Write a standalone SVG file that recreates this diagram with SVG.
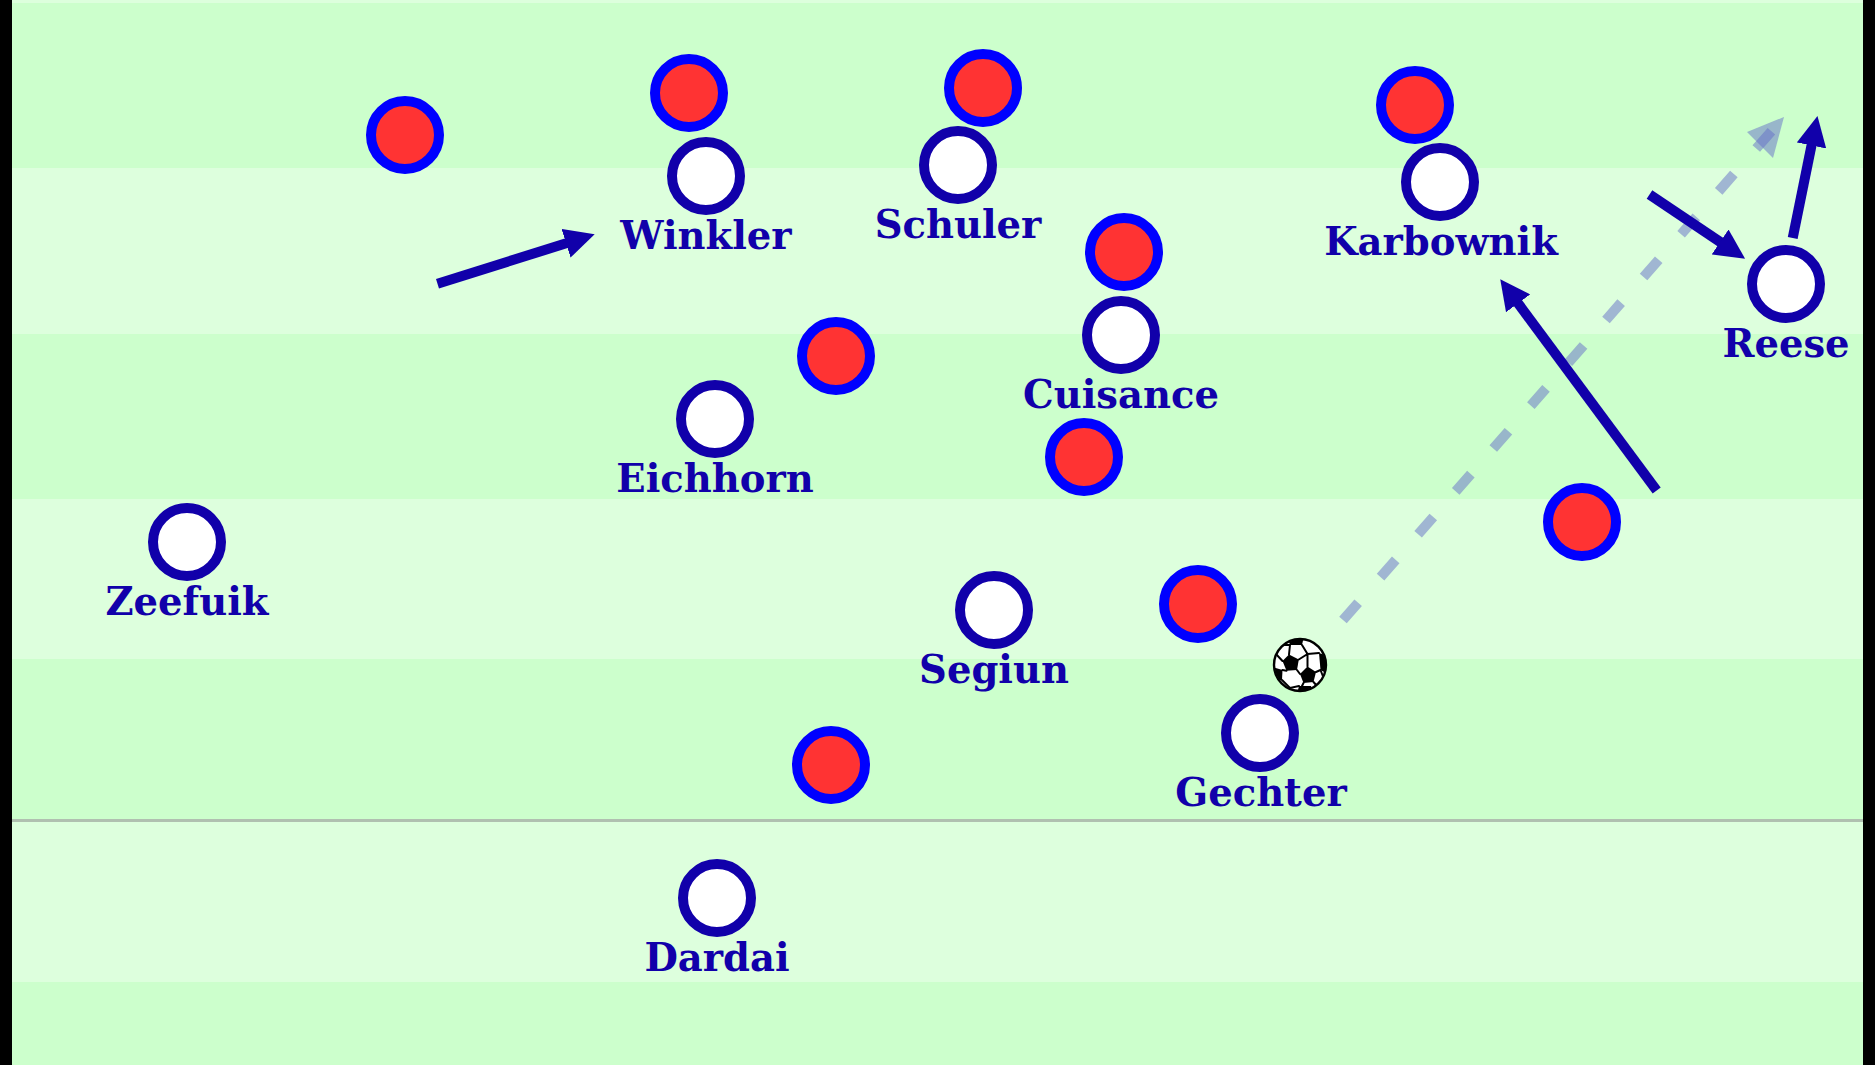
<svg xmlns="http://www.w3.org/2000/svg" width="1875" height="1065" viewBox="0 0 1875 1065">
<style>
.dark{fill:#ccffcc}
.light{fill:#ddffdd}
.opp{fill:#ff3333;stroke:#0000ff;stroke-width:10}
.own{fill:#ffffff;stroke:#1100aa;stroke-width:10}
.lbl{font-family:"DejaVu Serif","Liberation Serif",serif;font-weight:bold;font-size:38.5px;fill:#1100aa;text-anchor:middle}
.run{fill:none;stroke:#1100aa;stroke-width:10;marker-end:url(#ah)}
.pass{fill:none;stroke:#646ec8;stroke-opacity:0.5;stroke-width:10;stroke-dasharray:23 34}
.passhead{fill:#646ec8;fill-opacity:0.5}
.patch{fill:#000000}
.seam{stroke:#000000;stroke-width:2;fill:none;stroke-linecap:round}
</style>
<defs>
<marker id="ah" viewBox="0 0 30 30" markerWidth="30" markerHeight="30" refX="1" refY="15" orient="auto" markerUnits="userSpaceOnUse">
<path d="M0,0 L30,15 L0,30 z" fill="#1100aa"/>
</marker>
<clipPath id="ballclip"><circle cx="1300" cy="665" r="25.5"/></clipPath>
</defs>
<g id="pitch">
<rect x="0" y="0" width="1875" height="1065" class="dark"/>
<rect x="0" y="0" width="1875" height="3" class="light"/>
<rect x="0" y="168" width="1875" height="166" class="light"/>
<rect x="0" y="499" width="1875" height="160" class="light"/>
<rect x="0" y="819" width="1875" height="163" class="light"/>
<rect x="12" y="819" width="1851" height="3" fill="#b0c0b0"/>
<rect x="0" y="0" width="12" height="1065" fill="#000000"/>
<rect x="1863" y="0" width="12" height="1065" fill="#000000"/>
</g>
<g id="connectors">
<path class="pass" d="M1343,620 L1771.4,131.2"/>
<polygon class="passhead" points="1784,117 1747,132 1773,158"/>
<path class="run" d="M437.5,283.7 L567,243"/>
<path class="run" d="M1656.7,490.5 L1517.5,302.5"/>
<path class="run" d="M1649.5,194.5 L1721,242.5"/>
<path class="run" d="M1792.7,238 L1811.7,144.5"/>
</g>
<g id="opponents">
<circle id="opp1" class="opp" cx="405" cy="135" r="34"/>
<circle id="opp2" class="opp" cx="689" cy="93" r="34"/>
<circle id="opp3" class="opp" cx="983" cy="88" r="34"/>
<circle id="opp4" class="opp" cx="1415" cy="105" r="34"/>
<circle id="opp5" class="opp" cx="1124" cy="252" r="34"/>
<circle id="opp6" class="opp" cx="836" cy="356" r="34"/>
<circle id="opp7" class="opp" cx="1084" cy="457" r="34"/>
<circle id="opp8" class="opp" cx="1582" cy="522" r="34"/>
<circle id="opp9" class="opp" cx="1198" cy="604" r="34"/>
<circle id="opp10" class="opp" cx="831" cy="765" r="34"/>
</g>
<g id="winkler"><circle class="own" cx="706" cy="176" r="34"/><text class="lbl" x="706" y="249">Winkler</text></g>
<g id="schuler"><circle class="own" cx="958" cy="165" r="34"/><text class="lbl" x="958" y="238">Schuler</text></g>
<g id="karbownik"><circle class="own" cx="1440" cy="182" r="34"/><text class="lbl" x="1441" y="255">Karbownik</text></g>
<g id="cuisance"><circle class="own" cx="1121" cy="335" r="34"/><text class="lbl" x="1121" y="408">Cuisance</text></g>
<g id="reese"><circle class="own" cx="1786" cy="284" r="34"/><text class="lbl" x="1786" y="357">Reese</text></g>
<g id="eichhorn"><circle class="own" cx="715" cy="419" r="34"/><text class="lbl" x="715" y="492">Eichhorn</text></g>
<g id="zeefuik"><circle class="own" cx="187" cy="542" r="34"/><text class="lbl" x="187" y="615">Zeefuik</text></g>
<g id="segiun"><circle class="own" cx="994" cy="610" r="34"/><text class="lbl" x="994" y="683">Segiun</text></g>
<g id="gechter"><circle class="own" cx="1260" cy="733" r="34"/><text class="lbl" x="1261" y="806">Gechter</text></g>
<g id="dardai"><circle class="own" cx="717" cy="898" r="34"/><text class="lbl" x="717" y="971">Dardai</text></g>
<g id="ball">
<circle cx="1300" cy="665" r="26" fill="#ffffff"/>
<g clip-path="url(#ballclip)">
<polygon class="patch" points="1289,654.5 1298.8,659.5 1297,670 1286.5,670.8 1282.5,661"/>
<polygon class="patch" points="1307.5,666.5 1316,672 1313.5,682 1303.5,683 1300,674"/>
<polygon class="patch" points="1287,636 1304,636 1302,645 1290,645"/>
<polygon class="patch" points="1319,653 1328,656 1328,674 1320.5,670"/>
<polygon class="patch" points="1272,667 1282.5,670 1282,680 1272,681"/>
<polygon class="patch" points="1299,686 1311,686 1313,694 1297,694"/>
<polygon class="patch" points="1317,686 1324,679 1328,683 1321,693"/>
<path class="seam" d="M1289,654.5 L1290,645 M1302,645 L1307.5,654 L1298.8,659.5 M1307.5,654 L1319,653 M1307.5,654 L1307.5,666.5 M1282.5,661 L1275,653 M1275,653 L1281,645 L1290,645 M1286.5,670.8 L1282.5,670 M1297,670 L1300,674 M1316,672 L1320.5,670 M1313.5,682 L1317,686 M1303.5,683 L1302,686 M1282,680 L1290,688 L1299,686 M1324,679 L1320.5,670"/>
</g>
<circle cx="1300" cy="665" r="26" fill="none" stroke="#000000" stroke-width="2.4"/>
</g>
</svg>
